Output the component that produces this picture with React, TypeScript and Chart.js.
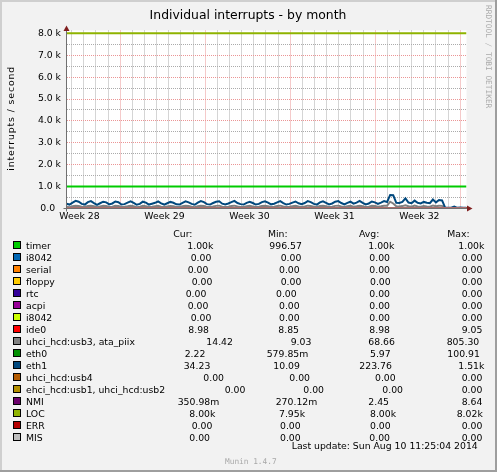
import React, { useEffect, useRef } from "react";
import { Chart, registerables } from "chart.js";
Chart.register(...registerables);

const W = 497;
const H = 472;

// ---- time axis (days relative to Sun 13 Jul 2014 00:00) ----
const X_MIN = -4.43;
const X_MAX = 28.52;
const SERIES_START = -4.43;
const SERIES_END = 28.52;
const WEEK_LINES = [0, 7, 14, 21, 28];
const WEEK_LABEL_DAYS = [-3.36, 3.64, 10.64, 17.64, 24.64];
const WEEK_LABELS = ["Week 28", "Week 29", "Week 30", "Week 31", "Week 32"];

// ---- value axis ----
const Y_MAX = 8130;
const Y_MAJOR = [0, 1000, 2000, 3000, 4000, 5000, 6000, 7000, 8000];
const Y_MAJOR_LABELS = ["0.0  ", "1.0 k", "2.0 k", "3.0 k", "4.0 k", "5.0 k", "6.0 k", "7.0 k", "8.0 k"];
const Y_MINOR = [500, 1500, 2500, 3500, 4500, 5500, 6500, 7500];

// ---- series ----
const SERIES_NAMES = [
  "timer", "i8042", "serial", "floppy", "rtc", "acpi", "i8042", "ide0",
  "uhci_hcd:usb3, ata_piix", "eth0", "eth1", "uhci_hcd:usb4",
  "ehci_hcd:usb1, uhci_hcd:usb2", "NMI", "LOC", "ERR", "MIS",
];
const SERIES_COLORS = [
  "#00CC00", "#0066B3", "#FF8000", "#FFCC00", "#330099", "#990099", "#CCFF00", "#FF0000",
  "#808080", "#008F00", "#00487D", "#B35A00", "#B38F00", "#6B006B", "#8FB300", "#B30000", "#BEBEBE",
];

const TIMER = [1000, 1000];
const I8042_A = [0, 0];
const SERIAL = [0, 0];
const FLOPPY = [0, 0];
const RTC = [0, 0];
const ACPI = [0, 0];
const I8042_B = [0, 0];
const IDE0 = [8.9, 9.0];
const USB3_ATA = [
  80,
  60, 100, 130, 110,
  80, 70, 110, 130,
  100, 60, 90, 120,
  110, 70, 80, 120,
  110, 70, 80, 100,
  130, 100, 60, 80,
  120, 100, 70, 80,
  100, 120, 80, 70,
  90, 110, 100, 70,
  70, 100, 130, 110,
  80, 60, 100, 130,
  110, 70, 70, 90,
  120, 130, 80, 70,
  80, 110, 130, 90,
  70, 70, 100, 120,
  90, 70, 80, 110,
  130, 100, 70, 80,
  110, 130, 90, 70,
  80, 100, 120, 90,
  70, 90, 130, 110,
  80, 70, 110, 120,
  100, 70, 80, 120,
  130, 90, 70, 100,
  120, 80, 100, 130,
  100, 70, 80, 120,
  110, 80, 100, 130,
  130, 310, 230, 100,
  90, 110, 150, 100,
  80, 130, 90, 80,
  110, 90, 80, 140,
  100, 130, 120, 15,
  14, 15, 14, 14,
  15, 14, 14,
];
const ETH0 = [6, 6];
const ETH1 = [
  220,
  180, 270, 350, 310,
  210, 180, 290, 340,
  250, 170, 240, 310,
  280, 190, 230, 320,
  290, 180, 200, 270,
  330, 260, 170, 210,
  310, 270, 180, 220,
  260, 320, 230, 180,
  240, 300, 260, 190,
  180, 260, 330, 280,
  210, 170, 270, 340,
  290, 200, 180, 250,
  310, 330, 220, 180,
  230, 290, 350, 250,
  200, 180, 260, 310,
  250, 180, 210, 290,
  330, 270, 190, 220,
  280, 340, 250, 180,
  210, 270, 320, 240,
  200, 250, 340, 290,
  210, 180, 280, 330,
  260, 190, 230, 310,
  340, 250, 190, 260,
  310, 220, 270, 350,
  260, 190, 230, 320,
  280, 210, 270, 340,
  300, 620, 610, 260,
  250, 300, 460, 270,
  240, 360, 260, 230,
  300, 260, 240, 410,
  280, 390, 370, 40,
  30, 35, 90, 30,
  40, 30, 34,
];
const USB4 = [0, 0];
const EHCI_USB12 = [0, 0];
const NMI = [2.4, 2.5];
const LOC = [8000, 8000];
const ERR = [0, 0];
const MIS = [0, 0];

const SERIES_VALUES = [
  TIMER, I8042_A, SERIAL, FLOPPY, RTC, ACPI, I8042_B, IDE0,
  USB3_ATA, ETH0, ETH1, USB4, EHCI_USB12, NMI, LOC, ERR, MIS,
];

// ---- legend texts ----
const LEGEND_HEADERS = ["Cur:", "Min:", "Avg:", "Max:"];
const CUR_TEXT = ["1.00k", "0.00", "0.00", "0.00", "0.00", "0.00", "0.00", "8.98", "14.42", "2.22", "34.23", "0.00", "0.00", "350.98m", "8.00k", "0.00", "0.00"];
const MIN_TEXT = ["996.57", "0.00", "0.00", "0.00", "0.00", "0.00", "0.00", "8.85", "9.03", "579.85m", "10.09", "0.00", "0.00", "270.12m", "7.95k", "0.00", "0.00"];
const AVG_TEXT = ["1.00k", "0.00", "0.00", "0.00", "0.00", "0.00", "0.00", "8.98", "68.66", "5.97", "223.76", "0.00", "0.00", "2.45", "8.00k", "0.00", "0.00"];
const MAX_TEXT = ["1.00k", "0.00", "0.00", "0.00", "0.00", "0.00", "0.00", "9.05", "805.30", "100.91", "1.51k", "0.00", "0.00", "8.64", "8.02k", "0.00", "0.00"];

const TITLE = "Individual interrupts - by month";
const Y_TITLE = "interrupts / second";
const LAST_UPDATE = "Last update: Sun Aug 10 11:25:04 2014";
const WATERMARK = "RRDTOOL / TOBI OETIKER";
const FOOTER = "Munin 1.4.7";

// ---- layout / style (not data) ----
const FONT = '"DejaVu Sans"';
const MONO = '"DejaVu Sans Mono"';
const FS = 9.3;
const BACK = "#F2F2F2";
const SHADE_A = "#CFCFCF";
const SHADE_B = "#9E9E9E";
const GRID = "#ABABAB";
const MGRID = "#EB9595";
const AXIS = "#707070";
const ARROW = "#801F1F";
const HEADER_X = [173.3, 268, 359, 447.3];
const LEGEND_COL_X = [
  [187.3, 269.3, 368.3, 458.3],
  [190.7, 280.7, 369.3, 461.7],
  [187.7, 279, 369.3, 461.7],
  [191.7, 280.7, 370, 461.7],
  [185.7, 276, 369.3, 461.7],
  [187.7, 279, 369.3, 461.7],
  [190.7, 279, 369.3, 461.7],
  [188.3, 278.3, 369.3, 461.7],
  [206.3, 290.7, 368.3, 446.7],
  [184.7, 266.7, 370, 447.3],
  [183.7, 273.3, 359.3, 458.3],
  [203.3, 289.3, 375, 461.7],
  [224.7, 303.3, 382.3, 461.7],
  [177.7, 275.7, 368.3, 461.7],
  [189.3, 279, 370, 456.7],
  [191.7, 280, 370, 461.7],
  [189.3, 280, 369.3, 461.7],
];

const muninPlugin = {
  id: "muninDecor",
  beforeDraw(chart: any) {
    const { ctx, chartArea: a } = chart;
    ctx.save();
    ctx.fillStyle = BACK;
    ctx.fillRect(0, 0, W, H);
    ctx.fillStyle = SHADE_A;
    ctx.fillRect(0, 0, W, 2);
    ctx.fillRect(0, 0, 2, H);
    ctx.fillStyle = SHADE_B;
    ctx.fillRect(0, H - 2, W, 2);
    ctx.fillRect(W - 2, 0, 2, H);
    ctx.fillStyle = "#FFFFFF";
    ctx.fillRect(a.left, a.top, a.right - a.left, a.bottom - a.top);
    ctx.restore();
  },
  afterDatasetsDraw(chart: any) {
    const { ctx, chartArea: a } = chart;
    const ax = Math.floor(a.left) + 0.5;
    const ay = Math.floor(a.bottom) + 0.5;
    ctx.save();
    ctx.strokeStyle = AXIS;
    ctx.lineWidth = 1;
    ctx.beginPath();
    ctx.moveTo(ax, a.top - 1);
    ctx.lineTo(ax, ay + 3);
    ctx.moveTo(ax - 3, ay);
    ctx.lineTo(a.right + 1, ay);
    ctx.stroke();
    ctx.fillStyle = ARROW;
    ctx.beginPath();
    ctx.moveTo(ax, a.top - 5);
    ctx.lineTo(ax - 3, a.top + 0.5);
    ctx.lineTo(ax + 3, a.top + 0.5);
    ctx.closePath();
    ctx.fill();
    ctx.beginPath();
    ctx.moveTo(a.right + 6, ay);
    ctx.lineTo(a.right + 0.5, ay - 3);
    ctx.lineTo(a.right + 0.5, ay + 3);
    ctx.closePath();
    ctx.fill();
    ctx.restore();
  },
  afterDraw(chart: any) {
    const { ctx } = chart;
    ctx.save();
    ctx.fillStyle = "#000";
    ctx.textBaseline = "alphabetic";
    // title
    ctx.font = `12.4px ${FONT}`;
    ctx.textAlign = "center";
    ctx.fillText(TITLE, 248, 18.7);
    // y title
    ctx.save();
    ctx.translate(13.6, 118.3);
    ctx.rotate(-Math.PI / 2);
    ctx.font = `${FS}px ${FONT}`;
    (ctx as any).letterSpacing = "0.9px";
    ctx.fillText(Y_TITLE, 0, 0);
    ctx.restore();
    // watermark
    ctx.save();
    ctx.translate(486, 5);
    ctx.rotate(Math.PI / 2);
    ctx.font = `7.8px ${MONO}`;
    ctx.fillStyle = "#ABABAB";
    ctx.textAlign = "left";
    ctx.fillText(WATERMARK, 0, 0);
    ctx.restore();
    // legend
    ctx.textAlign = "left";
    ctx.font = `${FS}px ${FONT}`;
    LEGEND_HEADERS.forEach((h, j) => ctx.fillText(h, HEADER_X[j], 237));
    SERIES_NAMES.forEach((name, i) => {
      const base = 249 + 12 * i;
      ctx.fillStyle = SERIES_COLORS[i];
      ctx.fillRect(14, base - 7, 6, 6);
      ctx.strokeStyle = "#000";
      ctx.lineWidth = 1;
      ctx.strokeRect(13.5, base - 7.5, 7, 7);
      ctx.fillStyle = "#000";
      ctx.fillText(name, 26, base);
      const cols = [CUR_TEXT[i], MIN_TEXT[i], AVG_TEXT[i], MAX_TEXT[i]];
      cols.forEach((t, j) => ctx.fillText(t, LEGEND_COL_X[i][j], base));
    });
    ctx.fillText(LAST_UPDATE, 291.7, 449);
    ctx.font = `7.8px ${MONO}`;
    ctx.fillStyle = "#A8A8A8";
    ctx.fillText(FOOTER, 225, 464);
    ctx.restore();
  },
};

export default function App() {
  const ref = useRef<HTMLCanvasElement | null>(null);
  useEffect(() => {
    document.body.style.margin = "0";
    const canvas = ref.current;
    if (!canvas) return;
    const datasets = SERIES_VALUES.map((vals, i) => ({
      label: SERIES_NAMES[i],
      data: vals.map((v, k) => ({
        x: SERIES_START + (k * (SERIES_END - SERIES_START)) / (vals.length - 1),
        y: v,
      })),
      borderColor: SERIES_COLORS[i],
      backgroundColor: SERIES_COLORS[i],
      borderWidth: 2,
      pointRadius: 0,
      fill: false,
      tension: 0,
      order: -i,
    }));
    const dayTicks: number[] = [];
    for (let d = Math.ceil(X_MIN); d <= Math.floor(X_MAX); d++) dayTicks.push(d);
    const chart = new Chart(canvas, {
      type: "line",
      data: { datasets },
      options: {
        responsive: false,
        devicePixelRatio: 1,
        animation: false,
        events: [],
        layout: { padding: { left: 16.5, right: 30.5, top: 30.5, bottom: 243.5 } },
        plugins: {
          legend: { display: false },
          title: { display: false },
          tooltip: { enabled: false },
        },
        scales: {
          x: {
            type: "linear",
            min: X_MIN,
            max: X_MAX,
            afterBuildTicks: (scale: any) => {
              const vals = [...dayTicks, ...WEEK_LABEL_DAYS].sort((p, q) => p - q);
              scale.ticks = vals.map((v) => ({ value: v }));
            },
            afterFit: (scale: any) => {
              scale.height = 20;
            },
            grid: {
              drawTicks: false,
              lineWidth: 1,
              color: (c: any) => {
                const v = c.tick ? c.tick.value : null;
                if (v === null) return GRID;
                if (WEEK_LABEL_DAYS.includes(v)) return "rgba(0,0,0,0)";
                if (WEEK_LINES.includes(v)) return MGRID;
                return GRID;
              },
            },
            border: { display: false, dash: [1, 1] },
            ticks: {
              autoSkip: false,
              maxRotation: 0,
              minRotation: 0,
              padding: 3,
              color: "#000",
              font: { family: "DejaVu Sans", size: FS },
              callback: (value: any) => {
                const idx = WEEK_LABEL_DAYS.indexOf(Number(value));
                return idx >= 0 ? WEEK_LABELS[idx] : "";
              },
            },
          },
          y: {
            type: "linear",
            min: 0,
            max: Y_MAX,
            afterBuildTicks: (scale: any) => {
              const vals = [...Y_MAJOR, ...Y_MINOR].sort((p, q) => p - q);
              scale.ticks = vals.map((v) => ({ value: v }));
            },
            afterFit: (scale: any) => {
              scale.width = 50;
            },
            grid: {
              drawTicks: false,
              lineWidth: 1,
              color: (c: any) => {
                const v = c.tick ? c.tick.value : null;
                if (v !== null && Y_MAJOR.includes(v)) return MGRID;
                return GRID;
              },
            },
            border: { display: false, dash: [1, 1] },
            ticks: {
              autoSkip: false,
              padding: 5.5,
              color: "#000",
              font: { family: "DejaVu Sans", size: FS },
              callback: (value: any) => {
                const idx = Y_MAJOR.indexOf(Number(value));
                return idx >= 0 ? Y_MAJOR_LABELS[idx] : "";
              },
            },
          },
        },
      },
      plugins: [muninPlugin],
    } as any);
    return () => chart.destroy();
  }, []);
  return <canvas ref={ref} width={W} height={H} style={{ display: "block" }} />;
}
